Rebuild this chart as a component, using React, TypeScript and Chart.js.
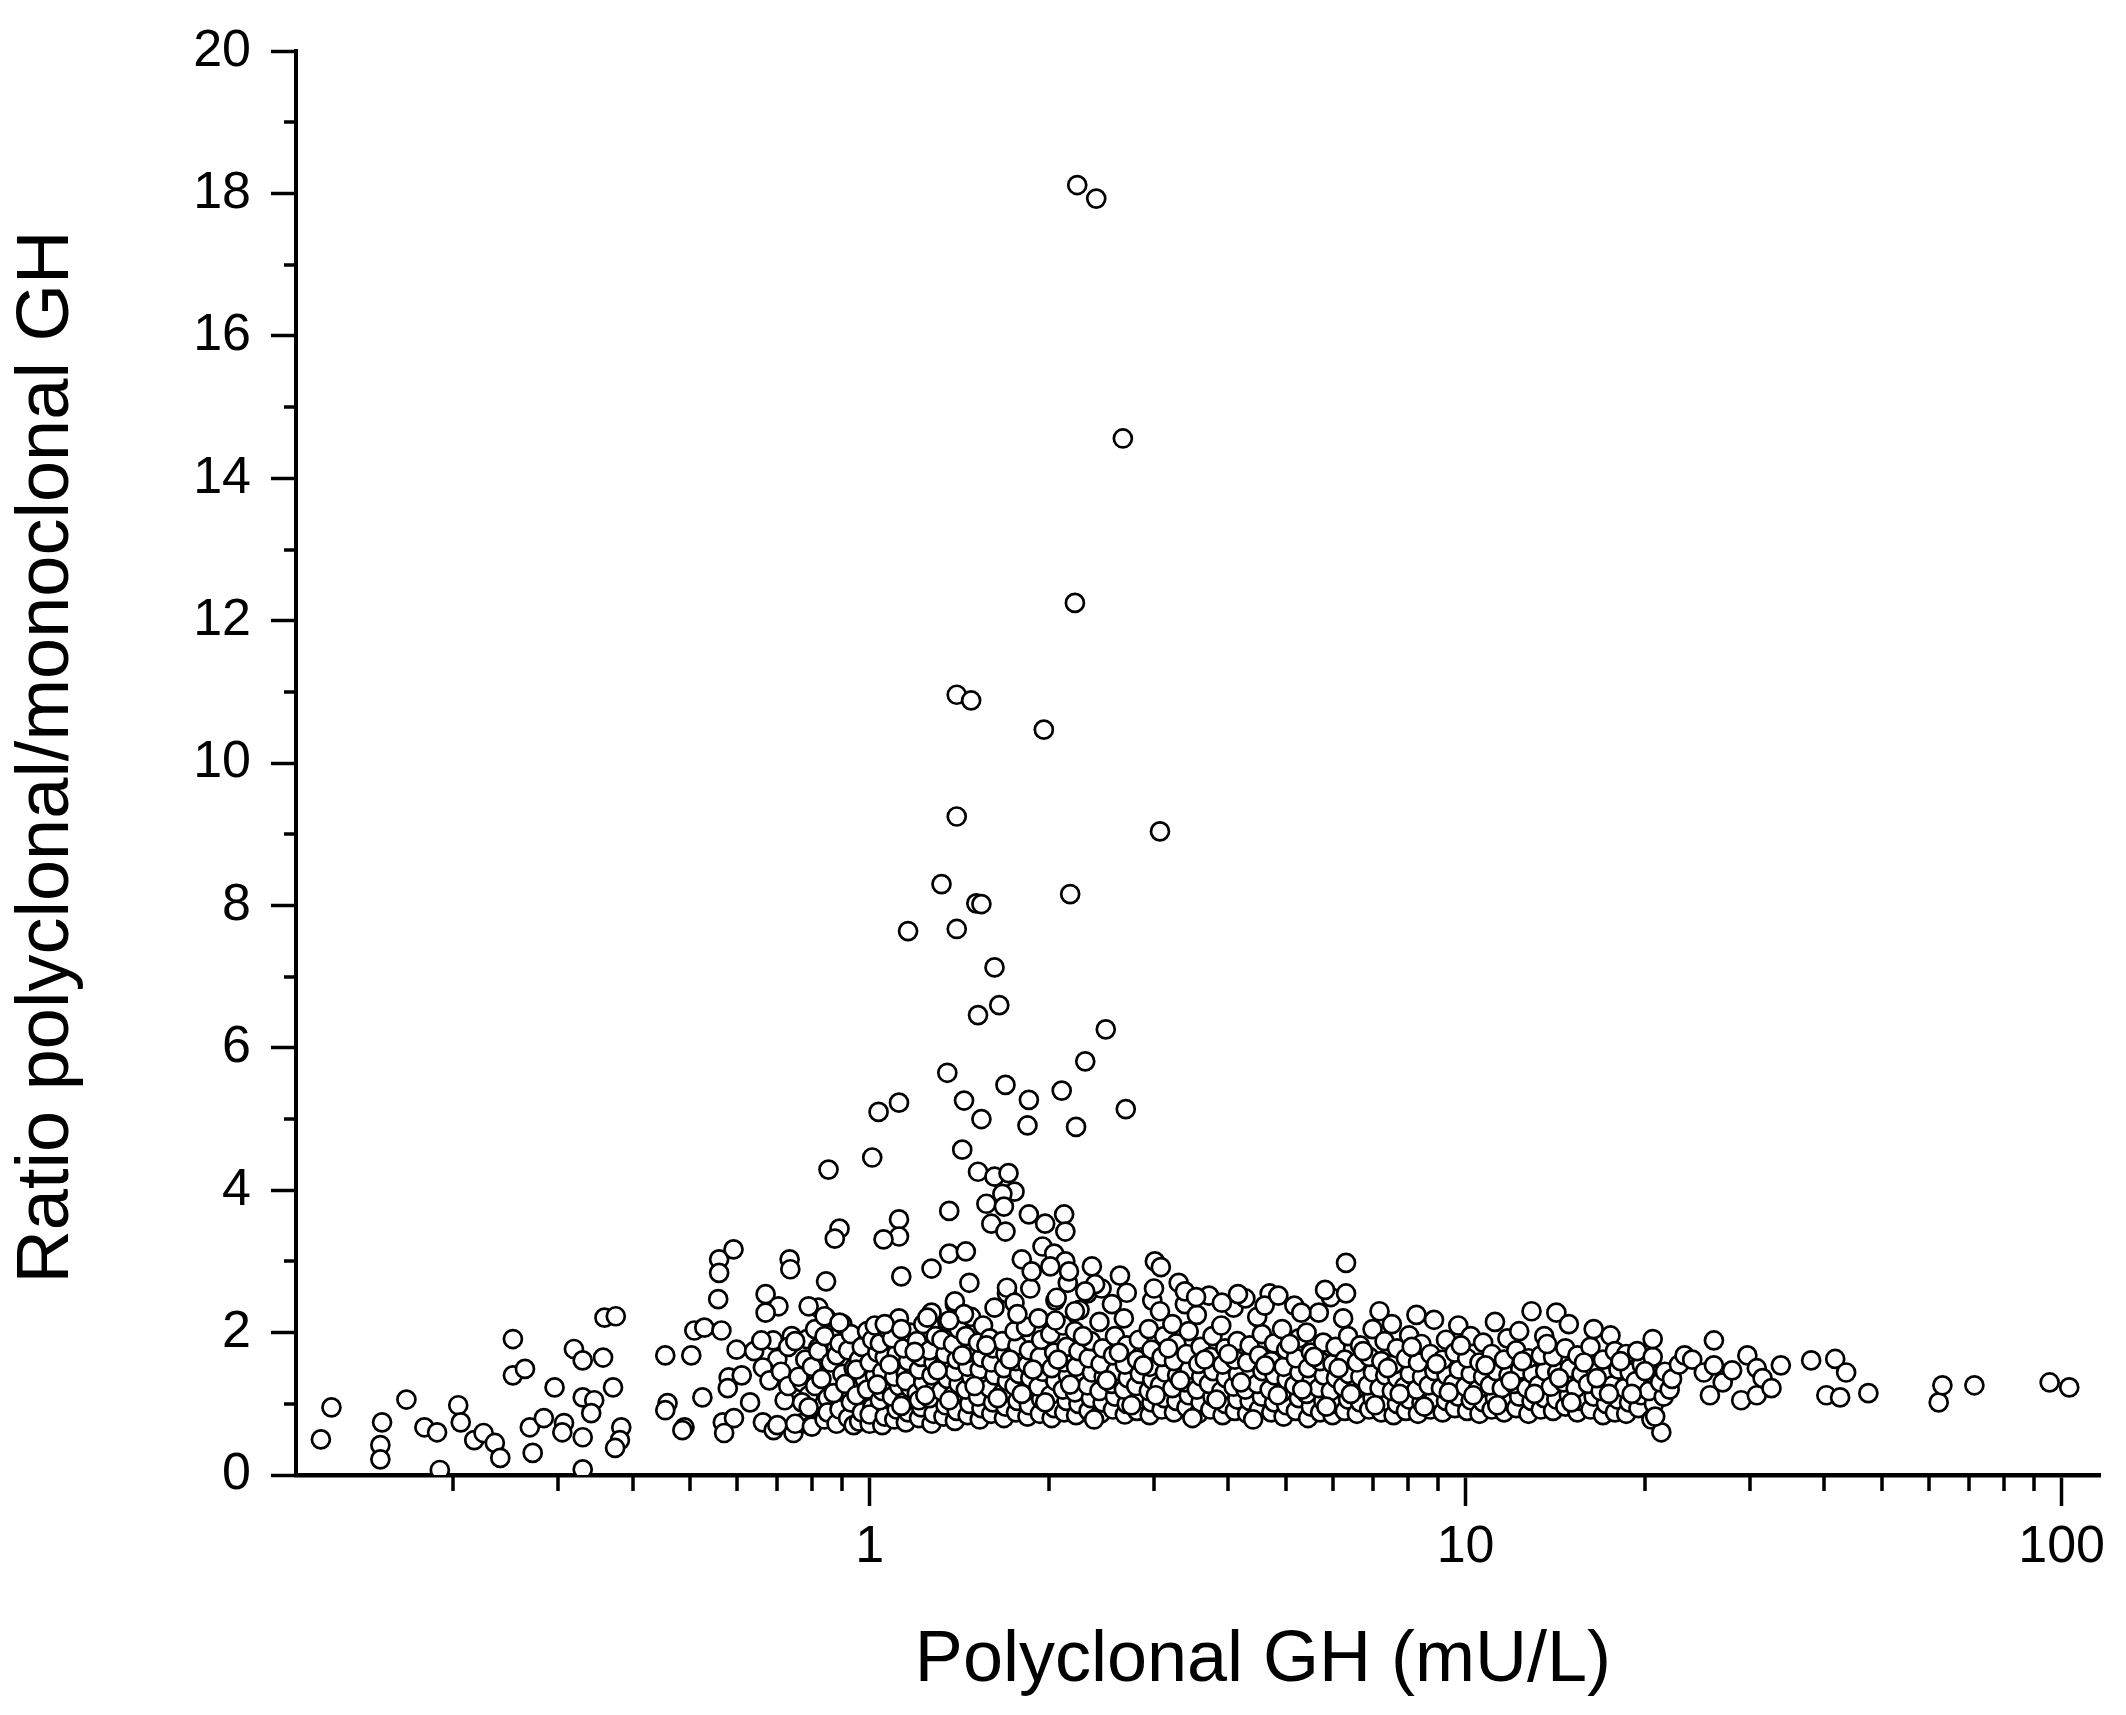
import { useEffect, useRef } from "react";
import { Chart, registerables } from "chart.js";

Chart.register(...registerables);

const FONT = "'Liberation Sans', Arial, Helvetica, sans-serif";

// Axis labels and ticks
const xTitle = "Polyclonal GH (mU/L)";
const yTitle = "Ratio polyclonal/monoclonal GH";
const xMajorTicks = [1, 10, 100];
const xMinorTicks = [0.2, 0.3, 0.4, 0.5, 0.6, 0.7, 0.8, 0.9, 2, 3, 4, 5, 6, 7, 8, 9, 20, 30, 40, 50, 60, 70, 80, 90];
const yMajorTicks = [0, 2, 4, 6, 8, 10, 12, 14, 16, 18, 20];
const yMinorTicks = [1, 3, 5, 7, 9, 11, 13, 15, 17, 19];

// [polyclonal GH, ratio]
const lowGH: [number, number][] = [
  [0.120, 0.50], [0.125, 0.95], [0.152, 0.74], [0.151, 0.42], [0.151, 0.22], [0.167, 1.06],
  [0.179, 0.67], [0.188, 0.60], [0.190, 0.07], [0.204, 0.98], [0.206, 0.74], [0.217, 0.49],
  [0.225, 0.59], [0.235, 0.45], [0.240, 0.24], [0.252, 1.91], [0.252, 1.40], [0.264, 1.49],
  [0.296, 1.23], [0.269, 0.67], [0.284, 0.80], [0.307, 0.73], [0.305, 0.60], [0.272, 0.31],
  [0.330, 0.08], [0.319, 1.77], [0.330, 1.61], [0.357, 1.65], [0.330, 1.09], [0.345, 1.05],
  [0.341, 0.87], [0.371, 1.23], [0.330, 0.53], [0.383, 0.67], [0.381, 0.49], [0.374, 0.38],
  [0.359, 2.21], [0.375, 2.23], [0.454, 1.68], [0.458, 1.01], [0.454, 0.91], [0.489, 0.67],
  [0.485, 0.63], [0.524, 1.09], [0.502, 1.68], [0.508, 2.03], [0.528, 2.07], [0.557, 2.47],
  [0.559, 3.03], [0.591, 3.17], [0.559, 2.84], [0.564, 2.03], [0.598, 1.76], [0.580, 1.37],
  [0.610, 1.40], [0.578, 1.22], [0.567, 0.74], [0.592, 0.80], [0.570, 0.59], [0.630, 1.02],
  [0.640, 1.74], [0.669, 2.54], [0.703, 2.37], [0.669, 2.28], [0.734, 3.03], [0.736, 2.89],
  [0.689, 1.89], [0.658, 1.89], [0.700, 1.63], [0.662, 1.51], [0.679, 1.33], [0.720, 1.05],
  [0.662, 0.74], [0.690, 0.63], [0.745, 0.59], [0.770, 0.73], [0.800, 0.70], [0.785, 1.91],
  [0.820, 1.79], [0.810, 1.44], [0.845, 2.72], [0.820, 2.35], [0.845, 2.21], [0.710, 1.45],
  [0.730, 1.25], [0.740, 1.95], [0.700, 0.70], [0.730, 1.80], [0.770, 1.30], [0.790, 1.12]
];

const mainBand: [number, number][] = [
  [0.75, 0.72], [0.77, 1.02], [0.76, 1.38], [0.78, 1.62], [0.75, 1.88],
  [0.80, 0.68], [0.79, 0.95], [0.81, 1.25], [0.80, 1.52], [0.82, 1.74], [0.81, 2.05],
  [0.84, 0.78], [0.85, 1.08], [0.83, 1.35], [0.86, 1.58], [0.84, 1.95], [0.85, 0.88],
  [0.88, 0.72], [0.89, 0.92], [0.87, 1.15], [0.90, 1.42], [0.88, 1.68], [0.89, 1.85], [0.90, 2.12],
  [0.92, 0.80], [0.93, 1.02], [0.91, 1.28], [0.94, 1.50], [0.92, 1.75], [0.93, 1.98], [0.94, 0.70],
  [0.96, 0.75], [0.97, 0.88], [0.95, 1.12], [0.98, 1.35], [0.96, 1.62], [0.97, 1.80], [0.99, 2.02], [0.95, 1.48],
  [1.00, 0.72], [1.01, 0.95], [0.99, 1.20], [1.02, 1.40], [1.00, 1.58], [1.03, 1.72], [1.01, 1.90], [1.02, 2.10], [1.00, 0.85],
  [1.05, 0.70], [1.06, 0.82], [1.04, 1.05], [1.07, 1.30], [1.05, 1.45], [1.06, 1.65], [1.04, 1.85], [1.07, 2.05], [1.05, 1.18],
  [1.10, 0.78], [1.11, 0.92], [1.09, 1.10], [1.12, 1.25], [1.10, 1.52], [1.11, 1.70], [1.09, 1.92], [1.12, 2.20], [1.10, 1.38],
  [1.15, 0.74], [1.16, 0.88], [1.14, 1.02], [1.17, 1.22], [1.15, 1.42], [1.16, 1.60], [1.14, 1.78], [1.17, 2.00], [1.15, 1.32],
  [1.21, 0.80], [1.22, 0.95], [1.20, 1.15], [1.23, 1.30], [1.21, 1.48], [1.22, 1.66], [1.20, 1.88], [1.23, 2.12], [1.21, 1.05],
  [1.27, 0.72], [1.28, 0.86], [1.26, 1.08], [1.29, 1.25], [1.27, 1.40], [1.28, 1.58], [1.26, 1.75], [1.29, 1.95], [1.27, 2.28],
  [1.33, 0.82], [1.34, 0.98], [1.32, 1.18], [1.35, 1.35], [1.33, 1.55], [1.34, 1.70], [1.32, 1.90], [1.35, 2.15],
  [1.39, 0.76], [1.40, 0.90], [1.38, 1.12], [1.41, 1.28], [1.39, 1.45], [1.40, 1.62], [1.38, 1.84], [1.41, 2.05], [1.39, 2.40],
  [1.46, 0.84], [1.47, 1.00], [1.45, 1.20], [1.48, 1.38], [1.46, 1.52], [1.47, 1.72], [1.45, 1.95], [1.48, 2.22],
  [1.53, 0.78], [1.54, 0.94], [1.52, 1.10], [1.55, 1.30], [1.53, 1.48], [1.54, 1.65], [1.52, 1.86], [1.55, 2.10],
  [1.60, 0.86], [1.61, 1.02], [1.59, 1.22], [1.62, 1.40], [1.60, 1.58], [1.61, 1.78], [1.59, 1.92], [1.62, 2.35],
  [1.68, 0.80], [1.69, 0.96], [1.67, 1.15], [1.70, 1.32], [1.68, 1.50], [1.69, 1.70], [1.67, 1.88], [1.70, 2.55],
  [1.76, 0.88], [1.77, 1.04], [1.75, 1.25], [1.78, 1.42], [1.76, 1.60], [1.77, 1.82], [1.75, 2.02],
  [1.84, 0.82], [1.85, 0.98], [1.83, 1.18], [1.86, 1.36], [1.84, 1.55], [1.85, 1.75], [1.83, 2.08], [1.86, 2.62],
  [1.93, 0.86], [1.94, 1.06], [1.92, 1.24], [1.95, 1.45], [1.93, 1.66], [1.94, 1.90], [1.92, 2.20],
  [2.02, 0.80], [2.04, 0.94], [2.01, 1.12], [2.05, 1.32], [2.02, 1.50], [2.04, 1.72], [2.01, 1.98], [2.05, 2.45],
  [2.12, 0.88], [2.14, 1.04], [2.11, 1.20], [2.15, 1.40], [2.12, 1.58], [2.14, 1.80], [2.11, 2.10], [2.15, 2.70],
  [2.22, 0.84], [2.24, 1.00], [2.21, 1.16], [2.25, 1.35], [2.22, 1.52], [2.24, 1.74], [2.21, 2.02], [2.25, 2.32],
  [2.33, 0.90], [2.35, 1.08], [2.32, 1.26], [2.36, 1.44], [2.33, 1.64], [2.35, 1.88], [2.32, 2.55],
  [2.44, 0.86], [2.46, 1.02], [2.43, 1.18], [2.47, 1.38], [2.44, 1.56], [2.46, 1.78], [2.43, 2.15],
  [2.56, 0.92], [2.58, 1.10], [2.55, 1.28], [2.59, 1.46], [2.56, 1.68], [2.58, 1.95], [2.55, 2.40],
  [2.68, 0.85], [2.70, 1.00], [2.67, 1.20], [2.71, 1.36], [2.68, 1.55], [2.70, 1.82], [2.67, 2.20],
  [2.81, 0.90], [2.83, 1.06], [2.80, 1.25], [2.84, 1.42], [2.81, 1.62], [2.83, 1.90],
  [2.95, 0.84], [2.97, 1.02], [2.94, 1.18], [2.98, 1.34], [2.95, 1.52], [2.97, 1.76], [2.94, 2.05], [2.98, 2.45],
  [3.09, 0.92], [3.12, 1.08], [3.07, 1.26], [3.13, 1.44], [3.09, 1.66], [3.12, 1.95], [3.07, 2.30],
  [3.24, 0.88], [3.27, 1.04], [3.22, 1.22], [3.28, 1.40], [3.24, 1.60], [3.27, 1.85], [3.22, 2.12],
  [3.40, 0.95], [3.43, 1.12], [3.38, 1.30], [3.44, 1.48], [3.40, 1.70], [3.43, 2.02], [3.38, 2.40],
  [3.56, 0.86], [3.59, 1.02], [3.54, 1.20], [3.60, 1.38], [3.56, 1.56], [3.59, 1.80], [3.54, 2.25],
  [3.73, 0.92], [3.76, 1.10], [3.71, 1.28], [3.77, 1.46], [3.73, 1.66], [3.76, 1.95], [3.71, 2.52],
  [3.91, 0.84], [3.95, 1.00], [3.89, 1.18], [3.96, 1.36], [3.91, 1.55], [3.95, 1.78], [3.89, 2.10],
  [4.10, 0.90], [4.14, 1.06], [4.08, 1.24], [4.15, 1.42], [4.10, 1.62], [4.14, 1.88], [4.08, 2.35],
  [4.30, 0.86], [4.34, 1.04], [4.27, 1.20], [4.35, 1.38], [4.30, 1.58], [4.34, 1.82], [4.27, 2.48],
  [4.50, 0.92], [4.55, 1.10], [4.47, 1.28], [4.56, 1.46], [4.50, 1.68], [4.55, 1.98], [4.47, 2.22],
  [4.72, 0.88], [4.77, 1.02], [4.69, 1.20], [4.78, 1.40], [4.72, 1.60], [4.77, 1.85], [4.69, 2.55],
  [4.95, 0.82], [5.00, 0.98], [4.92, 1.16], [5.01, 1.34], [4.95, 1.52], [5.00, 1.76], [4.92, 2.05],
  [5.19, 0.90], [5.25, 1.08], [5.16, 1.26], [5.26, 1.44], [5.19, 1.64], [5.25, 1.92], [5.16, 2.38],
  [5.44, 0.80], [5.50, 0.96], [5.41, 1.14], [5.51, 1.32], [5.44, 1.50], [5.50, 1.72], [5.41, 2.00],
  [5.70, 0.88], [5.77, 1.04], [5.67, 1.22], [5.78, 1.40], [5.70, 1.60], [5.77, 1.86], [5.67, 2.28],
  [5.98, 0.84], [6.05, 1.00], [5.94, 1.18], [6.06, 1.36], [5.98, 1.56], [6.05, 1.80], [5.94, 2.50],
  [6.27, 0.90], [6.35, 1.06], [6.23, 1.24], [6.36, 1.42], [6.27, 1.62], [6.35, 1.95], [6.23, 2.20],
  [6.57, 0.86], [6.65, 1.02], [6.53, 1.20], [6.66, 1.38], [6.57, 1.58], [6.65, 1.82],
  [6.89, 0.92], [6.98, 1.08], [6.85, 1.26], [6.99, 1.44], [6.89, 1.66], [6.98, 2.05],
  [7.22, 0.88], [7.31, 1.04], [7.17, 1.22], [7.33, 1.40], [7.22, 1.60], [7.31, 1.88], [7.17, 2.30],
  [7.57, 0.84], [7.67, 1.00], [7.52, 1.18], [7.68, 1.36], [7.57, 1.55], [7.67, 1.78], [7.52, 2.12],
  [7.94, 0.90], [8.04, 1.06], [7.89, 1.24], [8.06, 1.42], [7.94, 1.64], [8.04, 1.96],
  [8.32, 0.86], [8.43, 1.02], [8.27, 1.20], [8.45, 1.38], [8.32, 1.58], [8.43, 1.84], [8.27, 2.25],
  [8.73, 0.92], [8.85, 1.08], [8.67, 1.26], [8.86, 1.46], [8.73, 1.70], [8.85, 2.18],
  [9.15, 0.88], [9.27, 1.04], [9.09, 1.22], [9.29, 1.40], [9.15, 1.62], [9.27, 1.90],
  [9.59, 0.94], [9.72, 1.10], [9.53, 1.28], [9.74, 1.48], [9.59, 1.72], [9.72, 2.10],
  [10.06, 0.90], [10.2, 1.05], [9.99, 1.24], [10.2, 1.42], [10.06, 1.64], [10.2, 1.95],
  [10.55, 0.86], [10.7, 1.02], [10.48, 1.20], [10.7, 1.38], [10.55, 1.58], [10.7, 1.86],
  [11.06, 0.92], [11.2, 1.08], [10.98, 1.26], [11.25, 1.46], [11.06, 1.70], [11.2, 2.15],
  [11.6, 0.88], [11.75, 1.04], [11.5, 1.22], [11.8, 1.40], [11.6, 1.62], [11.75, 1.92],
  [12.16, 0.94], [12.3, 1.10], [12.05, 1.28], [12.35, 1.48], [12.16, 1.75], [12.3, 2.02],
  [12.75, 0.86], [12.9, 1.04], [12.65, 1.22], [12.95, 1.42], [12.75, 1.64], [12.9, 2.30],
  [13.37, 0.92], [13.55, 1.08], [13.25, 1.26], [13.6, 1.46], [13.37, 1.68], [13.55, 1.95],
  [14.02, 0.90], [14.2, 1.06], [13.9, 1.24], [14.25, 1.44], [14.02, 1.66], [14.2, 2.28],
  [14.7, 0.96], [14.9, 1.12], [14.6, 1.30], [14.95, 1.50], [14.7, 1.78], [14.9, 2.12],
  [15.4, 0.88], [15.6, 1.04], [15.3, 1.22], [15.65, 1.42], [15.4, 1.68],
  [16.2, 0.92], [16.4, 1.10], [16.05, 1.28], [16.45, 1.50], [16.2, 1.80], [16.4, 2.05],
  [17.0, 0.84], [17.2, 1.00], [16.85, 1.18], [17.25, 1.38], [17.0, 1.62], [17.5, 1.96],
  [17.8, 0.88], [18.0, 1.06], [17.65, 1.26], [18.05, 1.48], [17.8, 1.74],
  [18.6, 0.86], [18.8, 1.02], [18.45, 1.22], [18.85, 1.44], [18.6, 1.70],
  [19.5, 0.94], [19.7, 1.12], [19.3, 1.32], [19.75, 1.55], [19.4, 1.74],
  [20.5, 0.78], [20.7, 1.00], [20.3, 1.18], [20.75, 1.40], [20.6, 1.66], [20.6, 1.91],
  [21.3, 0.60], [20.8, 0.82], [21.5, 1.10], [21.2, 1.30], [21.6, 1.45],
  [22.0, 1.20], [22.2, 1.35]
];

// extra points filling the crowded part of the band
const bandFill: [number, number][] = [
  [1.03, 1.27], [1.08, 1.55], [1.13, 0.97], [1.19, 1.73], [1.24, 1.12], [1.30, 1.47],
  [1.36, 1.05], [1.43, 1.68], [1.50, 1.25], [1.57, 1.82], [1.64, 1.08], [1.72, 1.62],
  [1.80, 1.14], [1.88, 1.48], [1.97, 1.02], [2.07, 1.62], [2.17, 1.27], [2.28, 1.95],
  [2.38, 0.78], [2.50, 1.33], [2.62, 1.72], [2.75, 0.98], [2.88, 1.54], [3.02, 1.12],
  [3.17, 1.78], [3.32, 1.33], [3.48, 0.80], [3.65, 1.62], [3.82, 1.06], [4.00, 1.70],
  [4.20, 1.30], [4.40, 0.78], [4.61, 1.54], [4.84, 1.12], [5.07, 1.84], [5.32, 1.20],
  [5.57, 1.66], [5.84, 0.96], [6.12, 1.50], [6.42, 1.14], [6.73, 1.74], [7.05, 0.98],
  [7.40, 1.50], [7.75, 1.14], [8.12, 1.80], [8.52, 0.96], [8.93, 1.56], [9.37, 1.16],
  [9.82, 1.82], [10.3, 1.12], [10.8, 1.54], [11.3, 0.98], [11.9, 1.32], [12.45, 1.60],
  [13.05, 1.14], [13.7, 1.84], [14.35, 1.36], [15.05, 1.02], [15.8, 1.58], [16.6, 1.36],
  [17.4, 1.14], [18.2, 1.60], [19.0, 1.14], [20.0, 1.46], [3.00, 2.62], [3.30, 2.70],
  [3.90, 2.42], [4.60, 2.38], [5.30, 2.28], [2.70, 2.56], [2.45, 2.62]
];

const highGH: [number, number][] = [
  [22.8, 1.55], [23.3, 1.68], [24.0, 1.62], [25.1, 1.44], [25.7, 1.12], [26.1, 1.89],
  [26.1, 1.54], [27.0, 1.30], [28.0, 1.47], [29.0, 1.05], [29.7, 1.68], [30.8, 1.50],
  [30.8, 1.12], [31.5, 1.36], [32.6, 1.22], [33.8, 1.54], [38.0, 1.61], [40.3, 1.12],
  [41.7, 1.63], [42.5, 1.09], [43.5, 1.44], [47.4, 1.15], [62.2, 1.02], [63.1, 1.26],
  [71.4, 1.26], [95.5, 1.30], [103, 1.23]
];

const peakOutliers: [number, number][] = [
  [2.23, 18.12], [2.40, 17.93], [2.66, 14.56], [2.21, 12.25], [1.40, 10.96], [1.48, 10.88],
  [1.96, 10.47], [3.07, 9.04], [1.40, 9.25], [1.32, 8.30], [1.51, 8.03], [1.54, 8.02],
  [2.17, 8.16], [1.16, 7.64], [1.40, 7.67], [1.62, 7.13], [1.65, 6.60], [1.52, 6.46],
  [2.49, 6.26], [2.30, 5.81], [1.35, 5.65], [1.69, 5.48], [1.12, 5.23], [1.035, 5.10],
  [1.44, 5.26], [1.85, 5.27], [2.10, 5.40], [1.54, 5.00], [1.84, 4.91], [2.22, 4.89],
  [2.69, 5.14], [1.43, 4.57], [1.01, 4.46], [0.853, 4.29]
];

const midScatter: [number, number][] = [
  [1.52, 4.26], [1.62, 4.19], [1.71, 4.24], [1.75, 3.98], [1.67, 3.95], [1.57, 3.81],
  [1.68, 3.77], [1.60, 3.53], [1.69, 3.42], [1.85, 3.66], [1.97, 3.53], [2.12, 3.66],
  [2.13, 3.42], [1.95, 3.21], [2.04, 3.11], [2.13, 3.00], [2.01, 2.93], [2.16, 2.86],
  [1.80, 3.03], [1.87, 2.86], [2.36, 2.93], [2.39, 2.68], [1.70, 2.63], [1.75, 2.42],
  [1.77, 2.26], [2.06, 2.49], [2.05, 2.17], [2.21, 2.30], [2.30, 2.58], [1.13, 2.79],
  [1.27, 2.90], [1.36, 3.11], [1.45, 3.14], [1.47, 2.70], [1.39, 2.44], [1.44, 2.26],
  [1.25, 2.21], [1.36, 2.17], [0.79, 2.37], [0.84, 2.23], [0.89, 2.14], [1.06, 2.12],
  [1.13, 2.05], [0.89, 3.46], [0.874, 3.32], [1.12, 3.59], [1.12, 3.35], [1.055, 3.31],
  [1.36, 3.71], [3.01, 3.00], [3.08, 2.92], [3.38, 2.58], [3.53, 2.50], [4.15, 2.54],
  [4.85, 2.52], [5.81, 2.60], [6.30, 2.98], [6.30, 2.55], [2.63, 2.80]
];

const allPoints = [...lowGH, ...mainBand, ...bandFill, ...highGH, ...midScatter, ...peakOutliers];

// short ticks between the labelled ones
const minorTicksPlugin = {
  id: "minorTicks",
  afterDraw(chart: any) {
    const { ctx, chartArea, scales } = chart;
    ctx.save();
    ctx.strokeStyle = "#000";
    ctx.lineWidth = 3.5;
    ctx.beginPath();
    xMinorTicks.forEach((v) => {
      const px = Math.round(scales.x.getPixelForValue(v));
      ctx.moveTo(px, chartArea.bottom);
      ctx.lineTo(px, chartArea.bottom + 16);
    });
    yMinorTicks.forEach((v) => {
      const py = Math.round(scales.y.getPixelForValue(v));
      ctx.moveTo(chartArea.left, py);
      ctx.lineTo(chartArea.left - 12, py);
    });
    ctx.stroke();
    ctx.restore();
  }
};

// axis titles (x title sits right of centre in the original)
const axisTitlesPlugin = {
  id: "axisTitles",
  afterDraw(chart: any) {
    const { ctx, chartArea } = chart;
    ctx.save();
    ctx.fillStyle = "#000";
    ctx.textAlign = "center";
    ctx.textBaseline = "alphabetic";
    ctx.font = `72px ${FONT}`;
    ctx.fillText(xTitle, chartArea.left + chartArea.width * 0.536, chartArea.bottom + 206);
    ctx.font = `74px ${FONT}`;
    ctx.translate(68, (chartArea.top + chartArea.bottom) / 2 - 6);
    ctx.rotate(-Math.PI / 2);
    ctx.fillText(yTitle, 0, 0);
    ctx.restore();
  }
};

export default function App() {
  const chartRef = useRef<HTMLCanvasElement>(null);
  const chartInstance = useRef<Chart | null>(null);

  useEffect(() => {
    document.body.style.margin = "0";
    if (!chartRef.current) return;
    if (chartInstance.current) {
      chartInstance.current.destroy();
    }
    const ctx = chartRef.current.getContext("2d");
    if (!ctx) return;

    chartInstance.current = new Chart(ctx, {
      type: "scatter",
      data: {
        datasets: [
          {
            label: "GH ratio",
            data: allPoints.map(([x, y]) => ({ x, y })),
            pointStyle: "circle",
            pointRadius: 9,
            pointBorderWidth: 2.7,
            pointBorderColor: "#000",
            pointBackgroundColor: "#fff"
          }
        ]
      },
      options: {
        animation: false,
        responsive: true,
        maintainAspectRatio: false,
        devicePixelRatio: 1,
        layout: {
          padding: { left: 0, right: 26, top: 44, bottom: 0 }
        },
        plugins: {
          legend: { display: false },
          tooltip: { enabled: false }
        },
        scales: {
          x: {
            type: "logarithmic",
            min: 0.109,
            max: 116,
            afterBuildTicks: (scale: any) => {
              scale.ticks = xMajorTicks.map((v) => ({ value: v }));
            },
            afterFit: (scale: any) => {
              scale.height = 240;
            },
            border: { display: true, color: "#000", width: 4.5 },
            grid: {
              drawOnChartArea: false,
              drawTicks: true,
              tickLength: 31,
              tickWidth: 3.5,
              tickColor: "#000"
            },
            ticks: {
              color: "#000",
              font: { family: FONT, size: 52 },
              padding: 10,
              autoSkip: false,
              maxRotation: 0,
              callback: (value: any) => String(value)
            }
          },
          y: {
            min: 0,
            max: 20,
            afterBuildTicks: (scale: any) => {
              scale.ticks = yMajorTicks.map((v) => ({ value: v }));
            },
            afterFit: (scale: any) => {
              scale.width = 296;
            },
            border: { display: true, color: "#000", width: 4 },
            grid: {
              drawOnChartArea: false,
              drawTicks: true,
              tickLength: 25,
              tickWidth: 3.5,
              tickColor: "#000"
            },
            ticks: {
              color: "#000",
              font: { family: FONT, size: 52 },
              padding: 20
            }
          }
        }
      },
      plugins: [minorTicksPlugin, axisTitlesPlugin]
    });

    return () => {
      if (chartInstance.current) {
        chartInstance.current.destroy();
        chartInstance.current = null;
      }
    };
  }, []);

  return (
    <div style={{ position: "relative", width: 2126, height: 1715, background: "#fff" }}>
      <canvas ref={chartRef} />
    </div>
  );
}
